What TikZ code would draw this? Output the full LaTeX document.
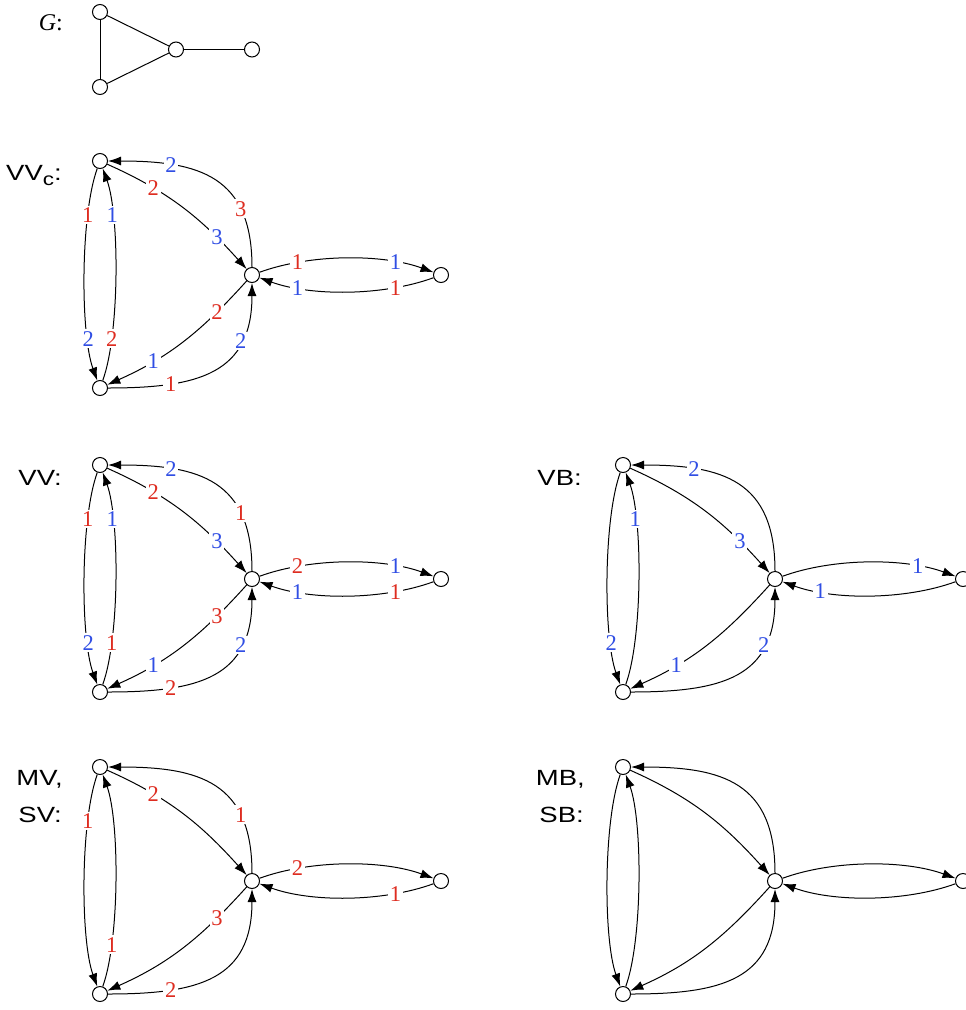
\documentclass[tikz,border=0pt]{standalone}
\usepackage{fontspec}
\setmainfont{Liberation Serif}
\setsansfont{Liberation Sans}[FakeStretch=1.25]
\usetikzlibrary{arrows.meta}
\definecolor{lred}{RGB}{222,44,32}
\definecolor{lblue}{RGB}{48,78,228}
\begin{document}
\begin{tikzpicture}[x=1pt,y=1pt,
  vtx/.style={circle,draw,fill=white,minimum size=15pt,inner sep=0pt,line width=1pt},
  gedge/.style={line width=1pt},
  arr/.style={line width=1pt,-{Latex[length=13pt,width=9pt]}},
  lbl/.style={fill=white,inner sep=1.8pt,font=\fontsize{22.5}{24}\selectfont},
  rl/.style={lbl,text=lred},
  bl/.style={lbl,text=lblue},
  ttl/.style={font=\sffamily\fontsize{22}{24}\selectfont,inner sep=0pt,anchor=base east},
  dn/.style={out=-110,in=110,looseness=0.6},
  upw/.style={out=70,in=-70,looseness=0.6},
  tci/.style={out=-24,in=132},
  cto/.style={out=90,in=0,looseness=1.3},
  cbi/.style={out=228,in=24},
  bco/.style={out=0,in=-90,looseness=1.3},
  hz/.style={bend left=20,looseness=0.8}]
\useasboundingbox (0,0) rectangle (966,-1010);

% ---------- G ----------
\node[font=\fontsize{24}{26}\selectfont,inner sep=0pt,anchor=base east] (gl) at (63,-30) {\textit{G}:};
\node[vtx] (g-T) at (100,-12) {};
\node[vtx] (g-B) at (100,-87) {};
\node[vtx] (g-C) at (176,-49.5) {};
\node[vtx] (g-R) at (252,-49.5) {};
\draw[gedge] (g-T) -- (g-B);
\draw[gedge] (g-T) -- (g-C);
\draw[gedge] (g-B) -- (g-C);
\draw[gedge] (g-C) -- (g-R);

% ---------- VVc ----------
\node[ttl] (l1) at (62,-180) {VV\raisebox{-5pt}{\fontsize{18}{20}\selectfont c}:};
\begin{scope}[shift={(100,-161)}]
\node[vtx] (a-T) at (0,0) {};
\node[vtx] (a-B) at (0,-227) {};
\node[vtx] (a-C) at (152,-114) {};
\node[vtx] (a-R) at (341,-114) {};
\draw[arr] (a-T) to[dn] node[rl,pos=.25]{1} node[bl,pos=.77]{2} (a-B);
\draw[arr] (a-B) to[upw] node[rl,pos=.23]{2} node[bl,pos=.75]{1} (a-T);
\draw[arr] (a-T) to[tci] node[rl,pos=.28]{2} node[bl,pos=.77]{3} (a-C);
\draw[arr] (a-C) to[cto] node[rl,pos=.27]{3} node[bl,pos=.74]{2} (a-T);
\draw[arr] (a-C) to[cbi] node[rl,pos=.23]{2} node[bl,pos=.72]{1} (a-B);
\draw[arr] (a-B) to[bco] node[rl,pos=.26]{1} node[bl,pos=.73]{2} (a-C);
\draw[arr] (a-C) to[hz] node[rl,pos=.23]{1} node[bl,pos=.77]{1} (a-R);
\draw[arr] (a-R) to[hz] node[rl,pos=.23]{1} node[bl,pos=.77]{1} (a-C);
\end{scope}

% ---------- VV ----------
\node[ttl] (l2) at (62,-485) {VV:};
\begin{scope}[shift={(100,-465)}]
\node[vtx] (b-T) at (0,0) {};
\node[vtx] (b-B) at (0,-227) {};
\node[vtx] (b-C) at (152,-114) {};
\node[vtx] (b-R) at (341,-114) {};
\draw[arr] (b-T) to[dn] node[rl,pos=.25]{1} node[bl,pos=.77]{2} (b-B);
\draw[arr] (b-B) to[upw] node[rl,pos=.23]{1} node[bl,pos=.75]{1} (b-T);
\draw[arr] (b-T) to[tci] node[rl,pos=.28]{2} node[bl,pos=.77]{3} (b-C);
\draw[arr] (b-C) to[cto] node[rl,pos=.27]{1} node[bl,pos=.74]{2} (b-T);
\draw[arr] (b-C) to[cbi] node[rl,pos=.23]{3} node[bl,pos=.72]{1} (b-B);
\draw[arr] (b-B) to[bco] node[rl,pos=.26]{2} node[bl,pos=.73]{2} (b-C);
\draw[arr] (b-C) to[hz] node[rl,pos=.23]{2} node[bl,pos=.77]{1} (b-R);
\draw[arr] (b-R) to[hz] node[rl,pos=.23]{1} node[bl,pos=.77]{1} (b-C);
\end{scope}

% ---------- VB ----------
\node[ttl] (l3) at (582,-485) {VB:};
\begin{scope}[shift={(623,-465)}]
\node[vtx] (c-T) at (0,0) {};
\node[vtx] (c-B) at (0,-227) {};
\node[vtx] (c-C) at (152,-114) {};
\node[vtx] (c-R) at (340,-114) {};
\draw[arr] (c-T) to[dn] node[bl,pos=.77]{2} (c-B);
\draw[arr] (c-B) to[upw] node[bl,pos=.75]{1} (c-T);
\draw[arr] (c-T) to[tci] node[bl,pos=.77]{3} (c-C);
\draw[arr] (c-C) to[cto] node[bl,pos=.74]{2} (c-T);
\draw[arr] (c-C) to[cbi] node[bl,pos=.72]{1} (c-B);
\draw[arr] (c-B) to[bco] node[bl,pos=.73]{2} (c-C);
\draw[arr] (c-C) to[hz] node[bl,pos=.77]{1} (c-R);
\draw[arr] (c-R) to[hz] node[bl,pos=.77]{1} (c-C);
\end{scope}

% ---------- MV, SV ----------
\node[ttl] (l4a) at (63,-785) {MV,};
\node[ttl] (l4b) at (62,-822) {SV:};
\begin{scope}[shift={(100,-767)}]
\node[vtx] (d-T) at (0,0) {};
\node[vtx] (d-B) at (0,-227) {};
\node[vtx] (d-C) at (152,-114) {};
\node[vtx] (d-R) at (341,-114) {};
\draw[arr] (d-T) to[dn] node[rl,pos=.25]{1} (d-B);
\draw[arr] (d-B) to[upw] node[rl,pos=.23]{1} (d-T);
\draw[arr] (d-T) to[tci] node[rl,pos=.28]{2} (d-C);
\draw[arr] (d-C) to[cto] node[rl,pos=.27]{1} (d-T);
\draw[arr] (d-C) to[cbi] node[rl,pos=.23]{3} (d-B);
\draw[arr] (d-B) to[bco] node[rl,pos=.26]{2} (d-C);
\draw[arr] (d-C) to[hz] node[rl,pos=.23]{2} (d-R);
\draw[arr] (d-R) to[hz] node[rl,pos=.23]{1} (d-C);
\end{scope}

% ---------- MB, SB ----------
\node[ttl] (l5a) at (585,-785) {MB,};
\node[ttl] (l5b) at (584,-822) {SB:};
\begin{scope}[shift={(623,-767)}]
\node[vtx] (e-T) at (0,0) {};
\node[vtx] (e-B) at (0,-227) {};
\node[vtx] (e-C) at (152,-114) {};
\node[vtx] (e-R) at (340,-114) {};
\draw[arr] (e-T) to[dn] (e-B);
\draw[arr] (e-B) to[upw] (e-T);
\draw[arr] (e-T) to[tci] (e-C);
\draw[arr] (e-C) to[cto] (e-T);
\draw[arr] (e-C) to[cbi] (e-B);
\draw[arr] (e-B) to[bco] (e-C);
\draw[arr] (e-C) to[hz] (e-R);
\draw[arr] (e-R) to[hz] (e-C);
\end{scope}
\end{tikzpicture}
\end{document}
